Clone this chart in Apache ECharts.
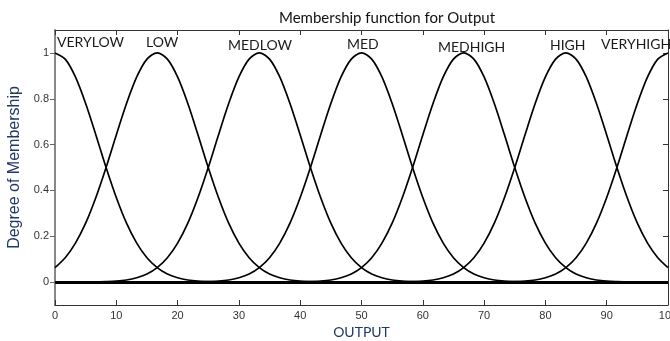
<!DOCTYPE html>
<html>
<head>
<meta charset="utf-8">
<script src="https://cdn.jsdelivr.net/npm/echarts@6/dist/echarts.min.js"></script>
<style>
  html, body { margin: 0; padding: 0; background: #fff; }
  #main { width: 670px; height: 341px; }
</style>
</head>
<body>
<div id="main"></div>
<script>
// x positions of the samples
const xs = [0,1.667,3.333,5,6.667,8.333,10,11.667,13.333,15,16.667,18.333,20,21.667,23.333,25,26.667,28.333,30,31.667,33.333,35,36.667,38.333,40,41.667,43.333,45,46.667,48.333,50,51.667,53.333,55,56.667,58.333,60,61.667,63.333,65,66.667,68.333,70,71.667,73.333,75,76.667,78.333,80,81.667,83.333,85,86.667,88.333,90,91.667,93.333,95,96.667,98.333,100];

const names = ['VERYLOW', 'LOW', 'MEDLOW', 'MED', 'MEDHIGH', 'HIGH', 'VERYHIGH'];

const veryLow = [1,.973,.895,.779,.642,.5,.369,.257,.17,.106,.063,.035,.019,.009,.004,.002,.001,
  0,0,0,0,0,0,0,0,0,0,0,0,0,0,0,0,0,0,0,0,0,0,0,0,0,0,0,0,0,0,0,0,0,0,0,0,0,0,0,0,0,0,0,0,0];
const low = [.063,.106,.17,.257,.369,.5,.642,.779,.895,.973,1,
  .973,.895,.779,.642,.5,.369,.257,.17,.106,.063,.035,.019,.009,.004,.002,.001,
  0,0,0,0,0,0,0,0,0,0,0,0,0,0,0,0,0,0,0,0,0,0,0,0,0,0,0,0,0,0,0,0,0,0];
const medLow = [0,0,0,0,
  .001,.002,.004,.009,.019,.035,.063,.106,.17,.257,.369,.5,.642,.779,.895,.973,1,
  .973,.895,.779,.642,.5,.369,.257,.17,.106,.063,.035,.019,.009,.004,.002,.001,
  0,0,0,0,0,0,0,0,0,0,0,0,0,0,0,0,0,0,0,0,0,0,0,0];
const med = [0,0,0,0,0,0,0,0,0,0,0,0,0,0,
  .001,.002,.004,.009,.019,.035,.063,.106,.17,.257,.369,.5,.642,.779,.895,.973,1,
  .973,.895,.779,.642,.5,.369,.257,.17,.106,.063,.035,.019,.009,.004,.002,.001,
  0,0,0,0,0,0,0,0,0,0,0,0,0,0];
const medHigh = [0,0,0,0,0,0,0,0,0,0,0,0,0,0,0,0,0,0,0,0,0,0,0,0,
  .001,.002,.004,.009,.019,.035,.063,.106,.17,.257,.369,.5,.642,.779,.895,.973,1,
  .973,.895,.779,.642,.5,.369,.257,.17,.106,.063,.035,.019,.009,.004,.002,.001,
  0,0,0,0];
const high = [0,0,0,0,0,0,0,0,0,0,0,0,0,0,0,0,0,0,0,0,0,0,0,0,0,0,0,0,0,0,0,0,0,0,
  .001,.002,.004,.009,.019,.035,.063,.106,.17,.257,.369,.5,.642,.779,.895,.973,1,
  .973,.895,.779,.642,.5,.369,.257,.17,.106,.063];
const veryHigh = [0,0,0,0,0,0,0,0,0,0,0,0,0,0,0,0,0,0,0,0,0,0,0,0,0,0,0,0,0,0,0,0,0,0,0,0,0,0,0,0,0,0,0,0,
  .001,.002,.004,.009,.019,.035,.063,.106,.17,.257,.369,.5,.642,.779,.895,.973,1];

const curves = [veryLow, low, medLow, med, medHigh, high, veryHigh];
const yTicks = [0, 0.2, 0.4, 0.6, 0.8, 1];

const chart = echarts.init(document.getElementById('main'), null, { renderer: 'canvas' });

// label placement over the peaks (pixels)
const labelPos = [[57, 35], [146, 35], [228, 38], [347, 37], [438, 40], [550, 38], [601, 37]];

const series = curves.map(function (ys, i) {
  return {
    name: names[i],
    type: 'line',
    data: xs.map(function (x, j) { return [x, ys[j]]; }),
    smooth: 0.3,
    symbol: 'none',
    lineStyle: { color: '#000', width: 1.7 },
    z: 3
  };
});
series[0].markLine = {
  silent: true,
  symbol: 'none',
  label: { show: false },
  lineStyle: { color: '#000', width: 3, type: 'solid' },
  data: [{ yAxis: 0 }]
};

const option = {
  animation: false,
  backgroundColor: '#fff',
  title: {
    text: 'Membership function for Output',
    left: 382,
    textAlign: 'center',
    top: 6,
    textStyle: { fontFamily: 'Lato', fontSize: 15, fontWeight: 'normal', color: '#111' }
  },
  grid: { left: 55, right: 2, top: 30, bottom: 36, containLabel: false, outerBoundsMode: 'none' },
  xAxis: [{
    type: 'value',
    min: 0, max: 100, interval: 10,
    position: 'bottom',
    name: 'OUTPUT',
    nameLocation: 'middle',
    nameGap: 20,
    nameTextStyle: { fontFamily: 'Lato', fontSize: 14, color: '#1f3864' },
    axisLine: { onZero: false, lineStyle: { color: '#333', width: 1 } },
    axisTick: { inside: true, length: 5, lineStyle: { color: '#333' } },
    axisLabel: { fontFamily: 'Liberation Sans', fontSize: 11, color: '#333', margin: 5 },
    splitLine: { show: false }
  }, {
    type: 'value',
    min: 0, max: 100, interval: 10,
    position: 'top',
    axisLine: { onZero: false, lineStyle: { color: '#333', width: 1 } },
    axisTick: { inside: true, length: 5, lineStyle: { color: '#333' } },
    axisLabel: { show: false },
    splitLine: { show: false }
  }],
  yAxis: [{
    type: 'value',
    min: -0.1, max: 1.1, interval: 0.1,
    position: 'left',
    name: 'Degree of Membership',
    nameLocation: 'middle',
    nameGap: 27,
    nameTextStyle: { fontFamily: 'Liberation Sans', fontSize: 16, color: '#1f3864' },
    axisLine: { onZero: false, lineStyle: { color: '#888', width: 2 } },
    axisTick: { customValues: yTicks, length: 5, lineStyle: { color: '#666' } },
    axisLabel: {
      customValues: yTicks,
      fontFamily: 'Liberation Sans', fontSize: 11, color: '#333', margin: 6,
      formatter: function (v) { return String(Math.round(v * 10) / 10); }
    },
    splitLine: { show: false }
  }, {
    type: 'value',
    min: -0.1, max: 1.1, interval: 0.1,
    position: 'right',
    axisLine: { onZero: false, lineStyle: { color: '#333', width: 1 } },
    axisTick: { customValues: yTicks, inside: true, length: 5, lineStyle: { color: '#333' } },
    axisLabel: { show: false },
    splitLine: { show: false }
  }],
  graphic: names.map(function (n, i) {
    return {
      type: 'text',
      left: labelPos[i][0],
      top: labelPos[i][1],
      z: 10,
      style: { text: n, font: '14px Lato', fill: '#1a1a1a' }
    };
  }),
  series: series
};

chart.setOption(option);
</script>
</body>
</html>
